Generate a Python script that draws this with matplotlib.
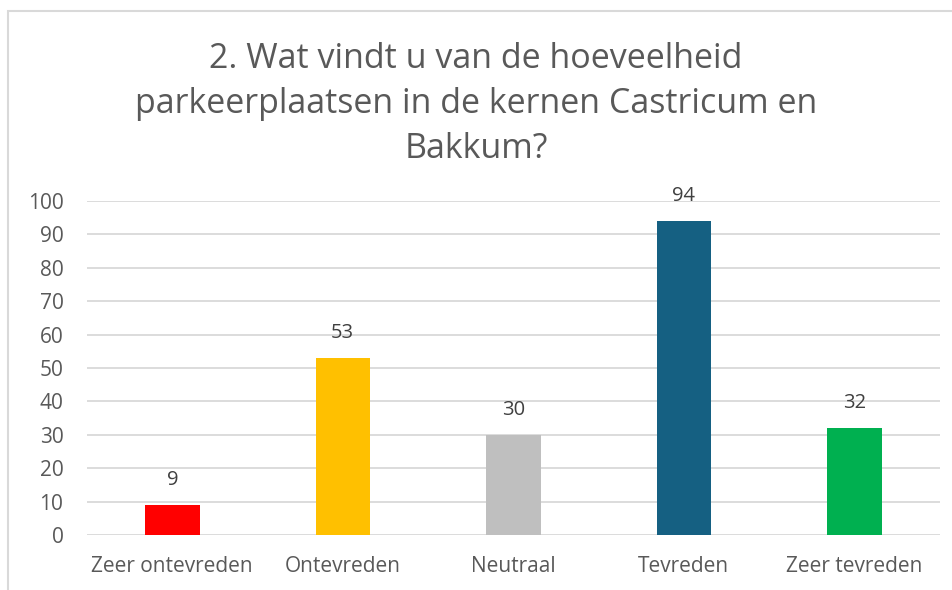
import matplotlib.pyplot as plt
from matplotlib.patches import Rectangle

categories = ['Zeer ontevreden', 'Ontevreden', 'Neutraal', 'Tevreden', 'Zeer tevreden']
counts = [9, 53, 30, 94, 32]
colors = ['#ff0000', '#ffc000', '#bfbfbf', '#156082', '#00b050']
title = '2. Wat vindt u van de hoeveelheid\nparkeerplaatsen in de kernen Castricum en\nBakkum?'

plt.rcParams['font.family'] = ['Open Sans', 'DejaVu Sans']

fig = plt.figure(figsize=(9.52, 5.9), dpi=100)
ax = fig.add_axes([0.0914, 0.0932, 0.8956, 0.5661])

x = range(len(categories))
bars = ax.bar(x, counts, width=0.32, color=colors, zorder=3)
for i, v in enumerate(counts):
    ax.text(i, v + 7.5, str(v), ha='center', va='center', fontsize=14.5, color='#404040')

ax.set_xlim(-0.5, len(categories) - 0.5)
ax.set_ylim(0, 100)
ax.set_yticks(range(0, 101, 10))
ax.set_xticks(list(x))
ax.set_xticklabels(categories)
ax.tick_params(axis='both', length=0, labelsize=15, labelcolor='#595959')
ax.tick_params(axis='x', pad=15)
ax.tick_params(axis='y', pad=17)
ax.grid(axis='y', color='#d9d9d9', linewidth=1.3, zorder=0)
for s in ax.spines.values():
    s.set_visible(False)

fig.text(0.5, 1 - 104 / 590, title, ha='center', va='center', fontsize=24.5, color='#595959',
         linespacing=1.42)

# chart frame
fig.patches.append(Rectangle((8 / 952, -0.1), 1.2, 1 - 11 / 590 + 0.1, transform=fig.transFigure,
                             fill=False, edgecolor='#d9d9d9', linewidth=1.5))

fig.savefig('out.png', dpi=100)
